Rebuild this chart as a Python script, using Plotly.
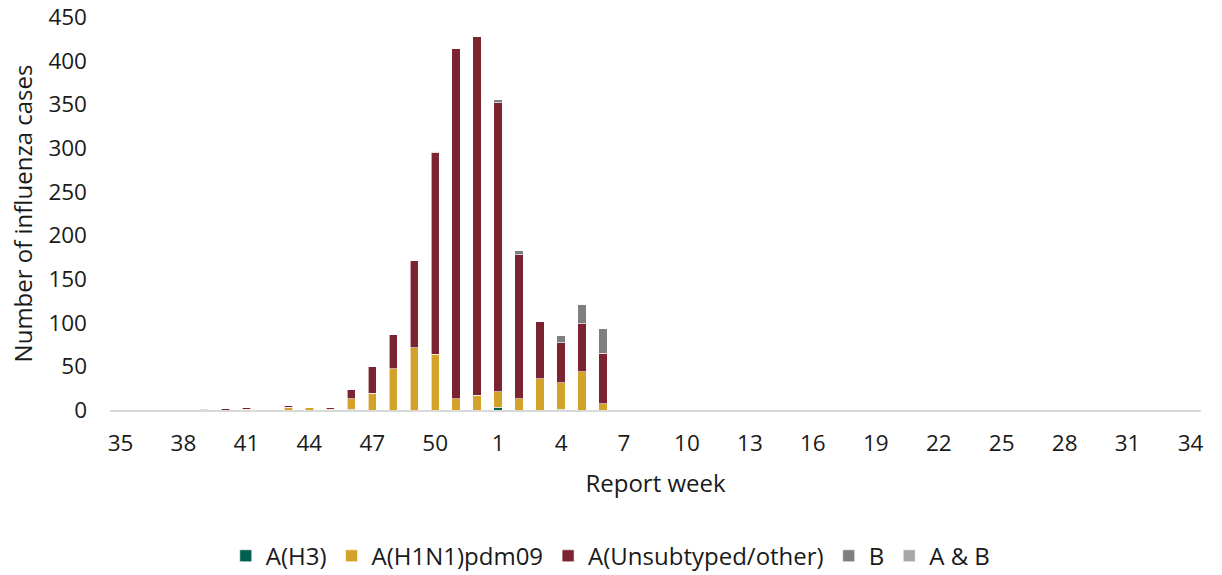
import plotly.graph_objects as go

weeks = [str(w) for w in list(range(35, 53)) + list(range(1, 35))]

# values per report week, weeks 35..52 then 1..34 (rows of 6 weeks, last row 4)
h3 = [0, 0, 0, 0, 0, 0,
      0, 0, 0, 0, 0, 1,
      0, 0, 0, 0, 0, 0,
      3, 0, 0, 1, 0, 0] + [0] * 28
h1n1 = [0, 0, 0, 0, 0, 0,
        1, 1, 3, 3, 1, 12,
        19, 47, 71, 64, 13, 17,
        18, 13, 36, 30, 44, 7] + [0] * 28
unsub = [0, 0, 1, 0, 0, 2,
         2, 0, 2, 0, 2, 11,
         31, 39, 100, 231, 401, 411,
         331, 165, 65, 46, 55, 58] + [0] * 28
b = [0, 0, 0, 0, 0, 0,
     0, 0, 0, 0, 0, 0,
     0, 0, 0, 1, 0, 0,
     3, 5, 0, 8, 22, 28] + [0] * 28
ab = [0, 0, 0, 0, 1, 0] + [0] * 46

tick_weeks = ['35', '38', '41', '44', '47', '50', '1', '4', '7', '10', '13', '16',
              '19', '22', '25', '28', '31', '34']

series = [
    ('A(H3)', h3, '#00604f'),
    ('A(H1N1)pdm09', h1n1, '#d5a229'),
    ('A(Unsubtyped/other)', unsub, '#7b2331'),
    ('B', b, '#7f7f7f'),
    ('A & B', ab, '#a6a6a6'),
]

fig = go.Figure()
for name, vals, col in series:
    fig.add_trace(go.Bar(x=weeks, y=vals, name=name,
                         marker=dict(color=col, line=dict(color='white', width=0.6))))

fig.update_layout(
    barmode='stack',
    bargap=0.6,
    width=1222, height=575,
    margin=dict(l=110, r=21, t=17, b=165, autoexpand=False),
    plot_bgcolor='white', paper_bgcolor='white',
    font=dict(family='Open Sans', size=22, color='#1a1a1a'),
    legend=dict(orientation='h', x=0.459, xanchor='center',
                y=-0.372, yanchor='middle', font=dict(size=24), traceorder='normal'),
)
fig.update_xaxes(
    type='category', tickvals=tick_weeks, ticktext=tick_weeks,
    showgrid=False, showline=True, linecolor='#d9d9d9', linewidth=2,
    tickfont=dict(size=22.5), ticklabelstandoff=12, automargin=False,
    title=dict(text='Report week', standoff=18, font=dict(size=24)), ticks='',
)
fig.update_yaxes(
    range=[0, 450], dtick=50, showgrid=False, zeroline=False,
    tickfont=dict(size=22.5), ticklabelstandoff=22, automargin=False,
    ticklabeloverflow='allow',
    title=dict(text='Number of influenza cases', standoff=8, font=dict(size=24)), ticks='',
)

# drop the default page margin so the figure sits at the window corner
fig.write_html("out.html", config={'displayModeBar': False},
               post_script="document.body.style.margin='0';document.body.style.overflow='hidden';")
